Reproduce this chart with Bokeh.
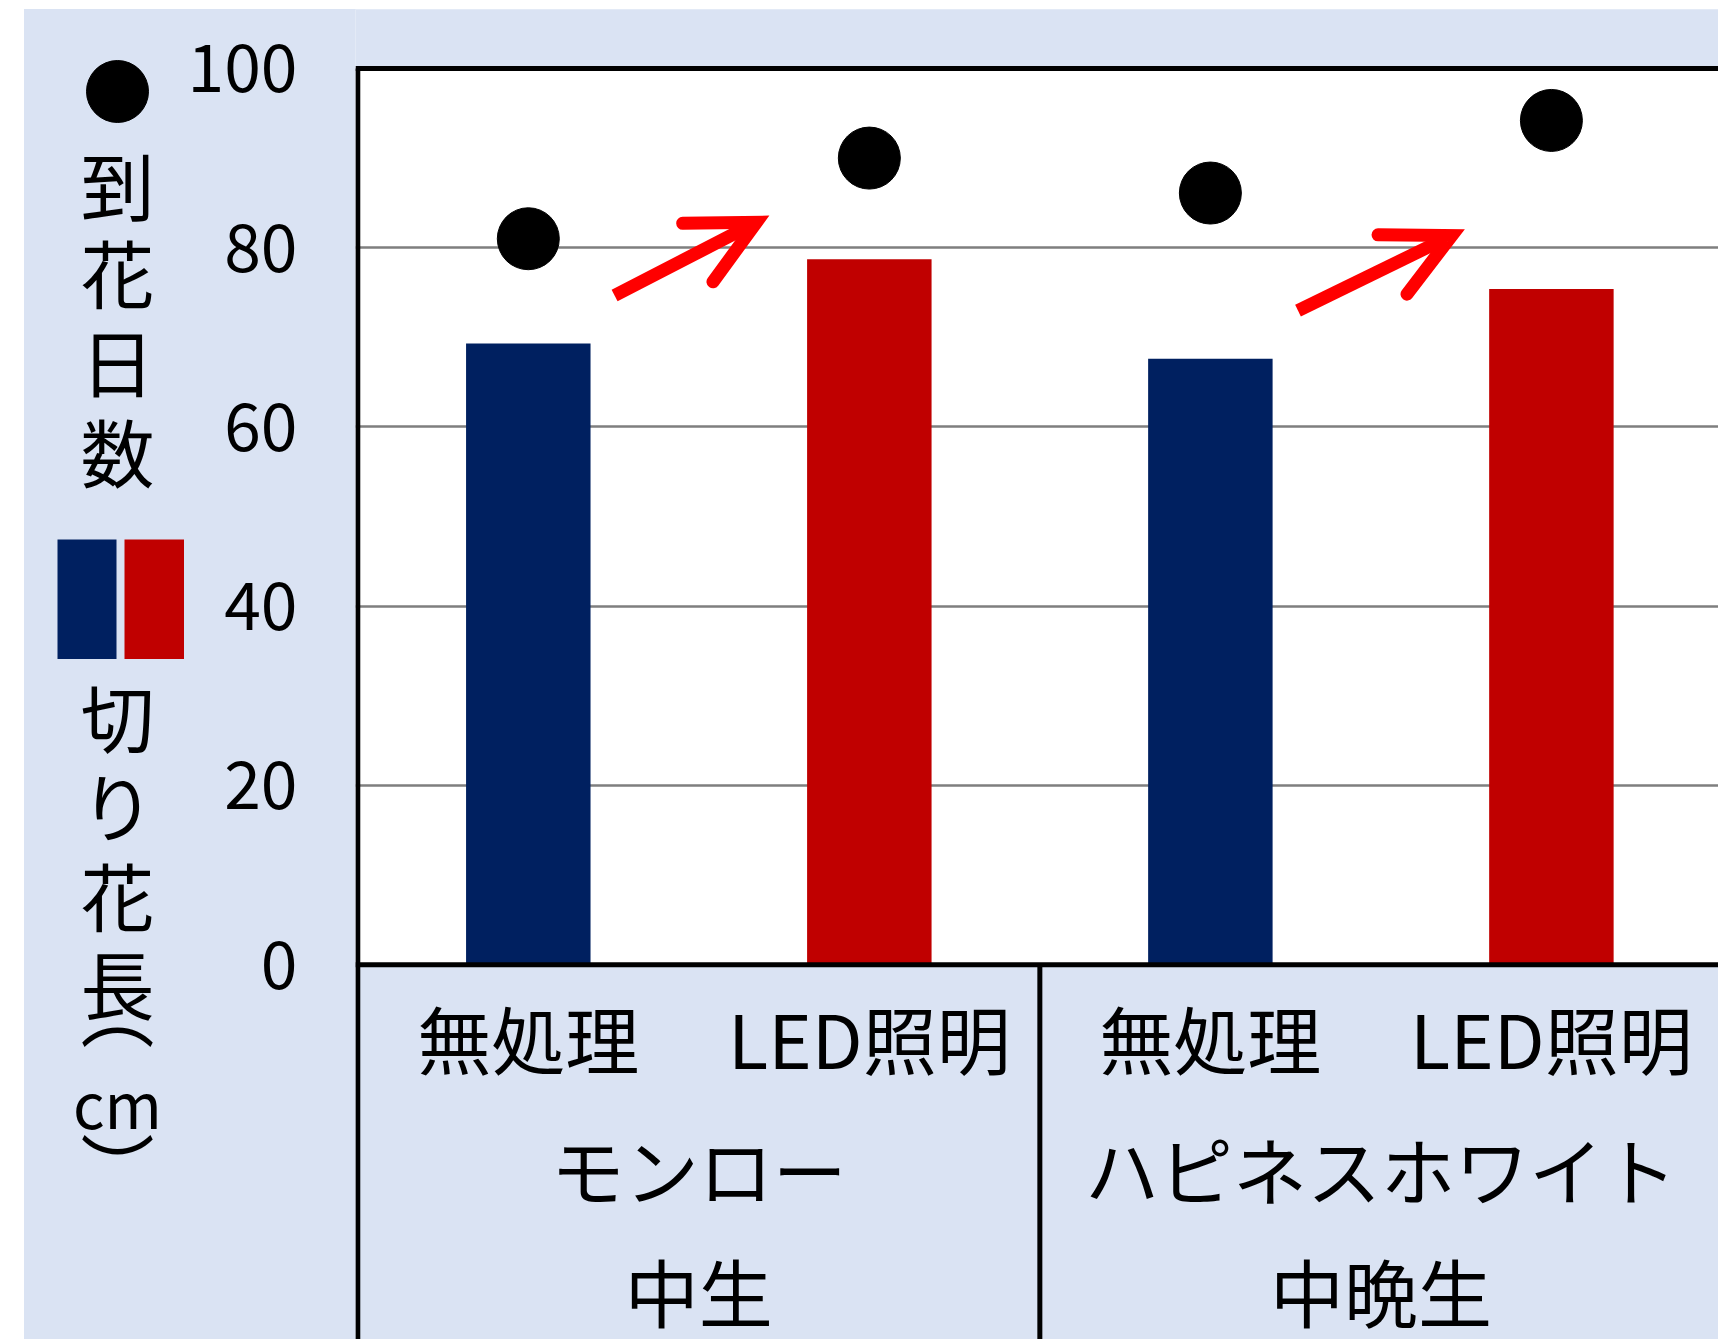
from bokeh.plotting import figure
from bokeh.models import Range1d, FixedTicker, Arrow, OpenHead, Span, Spacer
from bokeh.layouts import row, column
from bokeh.core.properties import value
from bokeh.embed import file_html
from bokeh.resources import INLINE

# ---------------- data ----------------
treatments = ["無処理", "LED照明", "無処理", "LED照明"]
varieties = ["モンロー", "ハピネスホワイト"]
maturity = ["中生", "中晩生"]
group_sizes = [2, 2]
cut_length = [69.3, 78.7, 67.6, 75.4]          # 切り花長 (cm) bars
days_to_flower = [81.0, 90.0, 86.1, 94.2]      # 到花日数 dots
bar_colors = ["#002060", "#C00000", "#002060", "#C00000"]
y_ticks = [0, 20, 40, 60, 80, 100]
grid_ticks = [20, 40, 60, 80]
y_max = 100
# red arrows (x_start, y_start, x_end, y_end) in data units
arrow_segments = [(0.753, 74.66, 1.169, 82.84), (2.757, 72.97, 3.208, 81.36)]

BG = "#DAE3F3"
FONT = "Noto Sans CJK JP"

xs = [i + 0.5 for i in range(len(treatments))]
group_centers = []
dividers = []
pos = 0
for n in group_sizes:
    group_centers.append(pos + n / 2)
    pos += n
    dividers.append(pos)

# ---------------- main figure ----------------
p = figure(width=1534, height=1330, x_range=Range1d(-0.0067, 3.99), y_range=Range1d(-41.83, 106.58),
           output_backend="svg", toolbar_location=None, x_axis_location=None,
           min_border_left=170, min_border_right=0, min_border_top=0, min_border_bottom=0)
p.background_fill_color = "white"
p.border_fill_color = BG
p.outline_line_color = None

# light-blue bands: below zero (category area) and above the plot box
p.quad(left=[-1, -1], right=[5, 5], bottom=[-60, y_max], top=[0, y_max + 20],
       fill_color=BG, line_color=None)

yax = p.yaxis[0]
yax.ticker = FixedTicker(ticks=y_ticks)
yax.axis_line_color = None
yax.major_tick_line_color = None
yax.minor_tick_line_color = None
yax.major_tick_out = 0
yax.major_tick_in = 0
yax.major_label_text_font_size = "66px"
yax.major_label_text_font = FONT
yax.major_label_text_color = "black"
yax.major_label_standoff = 58

for g in p.xgrid:
    g.visible = False
p.ygrid.ticker = FixedTicker(ticks=grid_ticks)
p.ygrid.grid_line_color = "#7F7F7F"
p.ygrid.grid_line_width = 2.5

p.vbar(x=xs, top=cut_length, width=0.365, fill_color=bar_colors, line_color=None)
p.scatter(x=xs, y=days_to_flower, size=62, color="black")

# frame lines: top border, zero line, left axis line and group dividers
p.add_layout(Span(location=y_max, dimension="width", line_color="black", line_width=5))
p.add_layout(Span(location=0, dimension="width", line_color="black", line_width=5))
p.segment(x0=[0], y0=[y_max], x1=[0], y1=[-60], line_color="black", line_width=5)
p.segment(x0=dividers, y0=[0] * len(dividers), x1=dividers, y1=[-60] * len(dividers),
          line_color="black", line_width=5)

for (x0, y0, x1, y1) in arrow_segments:
    p.add_layout(Arrow(x_start=x0, y_start=y0, x_end=x1, y_end=y1,
                       line_color="#FF0000", line_width=13, line_cap="butt",
                       end=OpenHead(size=66, line_color="#FF0000", line_width=13,
                                    line_cap="round", line_join="miter")))

p.text(x=xs, y=[-8.0] * len(xs), text=treatments, text_font=value(FONT),
       text_font_size="74px", text_align="center", text_baseline="middle", text_color="black")
p.text(x=group_centers, y=[-22.6] * len(group_centers), text=varieties, text_font=value(FONT),
       text_font_size="74px", text_align="center", text_baseline="middle", text_color="black")
p.text(x=group_centers, y=[-36.3] * len(group_centers), text=maturity, text_font=value(FONT),
       text_font_size="74px", text_align="center", text_baseline="middle", text_color="black")

# ---------------- left title panel ----------------
lf = figure(width=160, height=1330, x_range=Range1d(24, 184), y_range=Range1d(1339, 9),
            output_backend="svg", toolbar_location=None, x_axis_location=None, y_axis_location=None,
            min_border_left=0, min_border_right=0, min_border_top=0, min_border_bottom=0)
lf.background_fill_alpha = 0
lf.border_fill_color = BG
lf.outline_line_color = None
lf.grid.visible = False

lf.scatter(x=[117], y=[91], size=62, color="black")
top_chars = ["到", "花", "日", "数"]
lf.text(x=[117] * 4, y=[182, 270, 359, 449], text=top_chars, text_font=value(FONT),
        text_font_size="74px", text_align="center", text_baseline="middle", text_color="black")
lf.quad(left=[57, 124], right=[116, 184], top=[539, 539], bottom=[658.5, 658.5],
        fill_color=["#002060", "#C00000"], line_color=None)
bot_chars = ["切", "り", "花", "長", "︵", "cm", "︶"]
bot_sizes = ["74px", "74px", "74px", "74px", "74px", "62px", "74px"]
lf.text(x=[117] * 7, y=[714, 803, 893, 981, 1008, 1101, 1164], text=bot_chars,
        text_font=value(FONT), text_font_size=bot_sizes, text_align="center",
        text_baseline="middle", text_color="black")

inner = row(lf, p, styles={"background-color": BG})
layout = column(Spacer(height=9), row(Spacer(width=24), inner))
open("out.html", "w").write(file_html(layout, INLINE))
